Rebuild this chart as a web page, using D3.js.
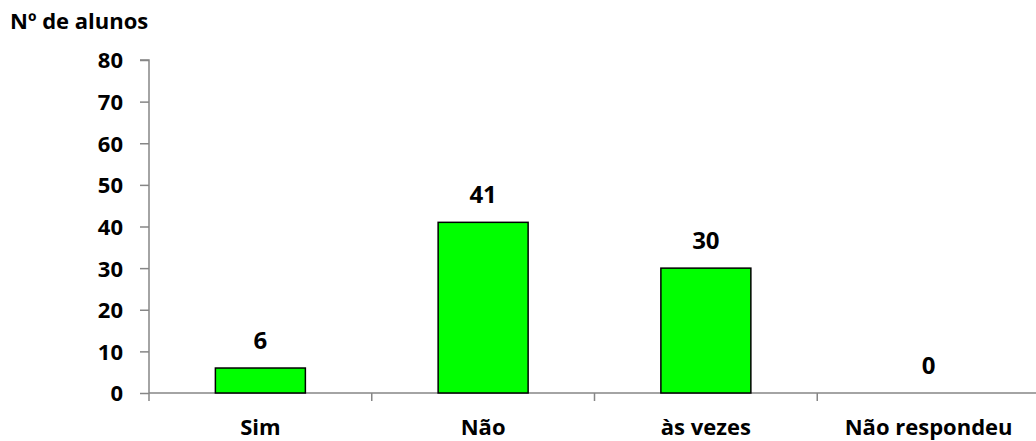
<!DOCTYPE html>
<html>
<head>
<meta charset="utf-8">
<script src="https://cdn.jsdelivr.net/npm/d3@7"></script>
<style>
  html, body { margin: 0; padding: 0; background: #fff; }
  svg { display: block; }
  text { font-family: "Open Sans", Lato, sans-serif; font-weight: bold; fill: #000; }
</style>
</head>
<body>
<svg id="chart" width="1036" height="441"></svg>
<script>
// Respostas por categoria (nº de alunos)
const categories = ["Sim", "Não", "às vezes", "Não respondeu"];
const values = [6, 41, 30, 0];
const yTicks = [0, 10, 20, 30, 40, 50, 60, 70, 80];
const yTitle = "Nº de alunos";

const svg = d3.select("#chart");
const plotLeft = 149, plotRight = 1040, plotTop = 60, plotBottom = 393;

const x = d3.scaleBand().domain(categories).range([plotLeft, plotRight]).paddingInner(0.596).paddingOuter(0.298);
const band = d3.scaleBand().domain(categories).range([plotLeft, plotRight]).padding(0);
const y = d3.scaleLinear().domain([0, 80]).range([plotBottom, plotTop]);

const axisColor = "#868686";

// y axis
const yAxis = svg.append("g").attr("transform", `translate(${plotLeft},0)`)
  .call(d3.axisLeft(y).tickValues(yTicks).tickSize(9).tickPadding(17));
yAxis.select(".domain").attr("stroke", axisColor).attr("stroke-width", 1.5).attr("d", `M-9,${plotTop}H0V${plotBottom}`);
yAxis.selectAll(".tick line").attr("stroke", axisColor).attr("stroke-width", 1.5);
yAxis.selectAll(".tick text").style("font-size", "22px").attr("dy", "0.36em");

// x axis line and category separators
const xg = svg.append("g");
xg.append("line").attr("x1", plotLeft).attr("x2", plotRight).attr("y1", plotBottom).attr("y2", plotBottom)
  .attr("stroke", axisColor).attr("stroke-width", 1.5);
const seps = categories.map(c => band(c)).concat([band(categories[categories.length - 1]) + band.bandwidth()]);
xg.selectAll("line.sep").data(seps).join("line").attr("class", "sep")
  .attr("x1", d => d).attr("x2", d => d).attr("y1", plotBottom).attr("y2", plotBottom + 8)
  .attr("stroke", axisColor).attr("stroke-width", 1.5);
xg.selectAll("text.cat").data(categories).join("text").attr("class", "cat")
  .attr("x", d => band(d) + band.bandwidth() / 2).attr("y", 435)
  .attr("text-anchor", "middle").style("font-size", "22px").text(d => d);

// bars
svg.selectAll("rect.bar").data(values).join("rect").attr("class", "bar")
  .attr("x", (d, i) => x(categories[i])).attr("width", x.bandwidth())
  .attr("y", d => y(d)).attr("height", d => plotBottom - y(d))
  .attr("fill", "#00ff00").attr("stroke", "#000").attr("stroke-width", 1.5)
  .style("display", d => d > 0 ? null : "none");

// value labels
svg.selectAll("text.val").data(values).join("text").attr("class", "val")
  .attr("x", (d, i) => band(categories[i]) + band.bandwidth() / 2)
  .attr("y", d => y(d) - 19)
  .attr("text-anchor", "middle").style("font-size", "24px").text(d => d);

// axis title
svg.append("text").attr("x", 10).attr("y", 29).style("font-size", "22px").text(yTitle);
</script>
</body>
</html>
